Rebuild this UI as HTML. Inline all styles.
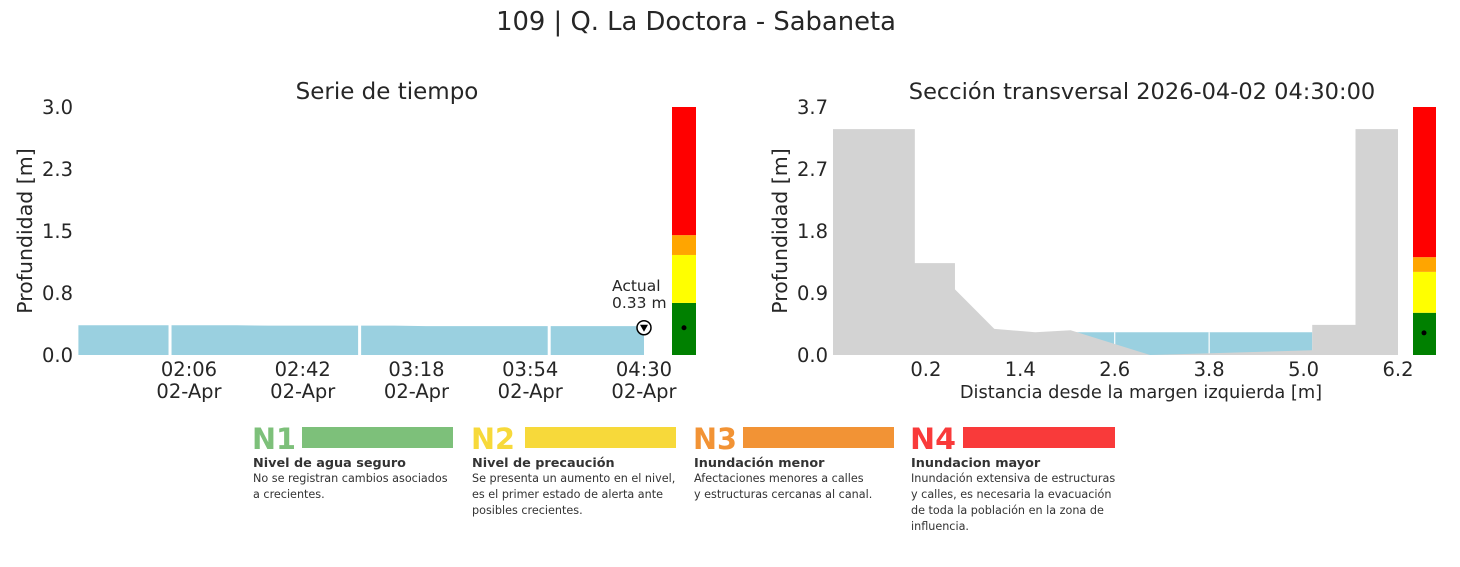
<!DOCTYPE html>
<html><head><meta charset="utf-8"><style>
body{margin:0;background:#fff;width:1460px;height:563px;overflow:hidden;font-family:"DejaVu Sans","Liberation Sans",sans-serif;}
svg text{font-family:"DejaVu Sans","Liberation Sans",sans-serif;fill:#262626}
</style></head><body>
<svg id="fig" width="1460" height="563">
<text x="696" y="30" font-size="25.8" text-anchor="middle">109 | Q. La Doctora - Sabaneta</text>
<text x="387" y="99" font-size="23" text-anchor="middle">Serie de tiempo</text>
<text x="1142" y="99" font-size="22.5" text-anchor="middle">Sección transversal 2026-04-02 04:30:00</text>
<text transform="translate(32,231) rotate(-90)" font-size="20.5" text-anchor="middle">Profundidad [m]</text>
<text transform="translate(787,231) rotate(-90)" font-size="20.5" text-anchor="middle">Profundidad [m]</text>
<text x="1141" y="398" font-size="17.8" text-anchor="middle">Distancia desde la margen izquierda [m]</text>
<g id="left"></g><g id="right"></g>
<g font-size="12">
 <text x="252" y="449" font-size="29" font-weight="bold" style="fill:#7dc07a" textLength="44" lengthAdjust="spacingAndGlyphs">N1</text>
 <rect x="302" y="427" width="151" height="21" fill="#7dc07a"/>
 <text x="253" y="467" font-size="12.8" font-weight="bold" style="fill:#333">Nivel de agua seguro</text>
 <text x="253" y="482" font-size="11.2" style="fill:#333">No se registran cambios asociados</text>
 <text x="253" y="498" font-size="11.2" style="fill:#333">a crecientes.</text>
 <text x="471" y="449" font-size="29" font-weight="bold" style="fill:#f7d93a" textLength="44" lengthAdjust="spacingAndGlyphs">N2</text>
 <rect x="525" y="427" width="151" height="21" fill="#f7d93a"/>
 <text x="472" y="467" font-size="12.8" font-weight="bold" style="fill:#333">Nivel de precaución</text>
 <text x="472" y="482" font-size="11.2" style="fill:#333">Se presenta un aumento en el nivel,</text>
 <text x="472" y="498" font-size="11.2" style="fill:#333">es el primer estado de alerta ante</text>
 <text x="472" y="514" font-size="11.2" style="fill:#333">posibles crecientes.</text>
 <text x="693" y="449" font-size="29" font-weight="bold" style="fill:#f29335" textLength="44" lengthAdjust="spacingAndGlyphs">N3</text>
 <rect x="743" y="427" width="151" height="21" fill="#f29335"/>
 <text x="694" y="467" font-size="12.8" font-weight="bold" style="fill:#333">Inundación menor</text>
 <text x="694" y="482" font-size="11.2" style="fill:#333">Afectaciones menores a calles</text>
 <text x="694" y="498" font-size="11.2" style="fill:#333">y estructuras cercanas al canal.</text>
 <text x="910" y="449" font-size="29" font-weight="bold" style="fill:#f93a3a" textLength="46" lengthAdjust="spacingAndGlyphs">N4</text>
 <rect x="963" y="427" width="152" height="21" fill="#f93a3a"/>
 <text x="911" y="467" font-size="12.8" font-weight="bold" style="fill:#333">Inundacion mayor</text>
 <text x="911" y="482" font-size="11.2" style="fill:#333">Inundación extensiva de estructuras</text>
 <text x="911" y="498" font-size="11.2" style="fill:#333">y calles, es necesaria la evacuación</text>
 <text x="911" y="514" font-size="11.2" style="fill:#333">de toda la población en la zona de</text>
 <text x="911" y="530" font-size="11.2" style="fill:#333">influencia.</text>
</g>
</svg>
<script>
// time series data (minutes since 00:00)
const tsTimes = [91,101,111,121,131,141,151,161,171,181,191,201,211,221,231,241,251,261,270];
const tsDepth = [0.36,0.36,0.36,0.36,0.36,0.36,0.355,0.355,0.355,0.355,0.355,0.35,0.35,0.35,0.35,0.35,0.35,0.35,0.35];
const tsTickMinutes = [126,162,198,234,270];
const tsTickLabels = ["02:06","02:42","03:18","03:54","04:30"];
const tsYTicks = [0,0.75,1.5,2.25,3.0];
const tsYLabels = ["0.0","0.8","1.5","2.3","3.0"];
const currentDepth = 0.33;
const levelBounds = [0,0.63,1.21,1.45,3.0];
// cross section data
const xsX = [-0.98,0.06,0.06,0.57,0.57,1.07,1.59,2.04,3.05,5.11,5.11,5.66,5.66,6.2];
const xsY = [3.37,3.37,1.37,1.37,0.98,0.39,0.34,0.37,0.0,0.07,0.45,0.45,3.37,3.37];
const xsXTicks = [0.2,1.4,2.6,3.8,5.0,6.2];
const xsYTicks = [0,0.925,1.85,2.775,3.7];
const xsYLabels = ["0.0","0.9","1.8","2.7","3.7"];
const xsLevelBounds = [0,0.63,1.24,1.46,3.7];
const levelColors = ["#008000","#ffff00","#ffa500","#ff0000"];

const NS="http://www.w3.org/2000/svg";
function mk(parent,tag,attrs){const e=document.createElementNS(NS,tag);for(const k in attrs)e.setAttribute(k,attrs[k]);parent.appendChild(e);return e;}
function txt(parent,x,y,s,size,anchor){const t=mk(parent,'text',{x:x,y:y,'font-size':size,'text-anchor':anchor});t.textContent=s;return t;}

// LEFT
const L=document.getElementById('left');
const lx=m=>78.4+(m-91)*(113.75/36);
const ly=v=>355-v*(248/3);
let d='M'+lx(tsTimes[0])+','+ly(0);
tsTimes.forEach((t,i)=>{d+=' L'+lx(t)+','+ly(tsDepth[i]);});
d+=' L'+lx(tsTimes[tsTimes.length-1])+','+ly(0)+' Z';
const area=mk(L,'path',{d:d,fill:'#9ad0e0'});


[120,180,240].forEach(m=>{const g=mk(L,'line',{x1:lx(m),x2:lx(m),y1:ly(0),y2:ly(3),stroke:'#fff','stroke-width':3});

});
tsTickMinutes.forEach((m,i)=>{const t=txt(L,lx(m),376,tsTickLabels[i],19.5,'middle');


const t2=txt(L,lx(m),398,'02-Apr',19.5,'middle');

});
tsYTicks.forEach((v,i)=>{const t=txt(L,73,ly(v)+7,tsYLabels[i],19.5,'end');

});
const mx=lx(tsTimes[tsTimes.length-1]), my=ly(currentDepth);
const mc=mk(L,'circle',{cx:mx,cy:my,r:7,fill:'#fff',stroke:'#000','stroke-width':1.5});


mk(L,'path',{d:`M${mx-4},${my-3} L${mx+4},${my-3} L${mx},${my+4} Z`,fill:'#000'});
const a1=txt(L,612,291,'Actual',15.5,'start');
const a2=txt(L,612,308,currentDepth.toFixed(2)+' m',15.5,'start');
for(let i=0;i<4;i++){const r=mk(L,'rect',{x:672,y:ly(levelBounds[i+1]),width:24,height:ly(levelBounds[i])-ly(levelBounds[i+1]),fill:levelColors[i]});

}
mk(L,'circle',{cx:684,cy:my,r:2.5,fill:'#000'});

// RIGHT
const R=document.getElementById('right');
const rx=v=>833+(v+0.98)*(565/7.18);
const ry=v=>355-v*(248/3.7);
const wl=currentDepth+0.01;
const water=mk(R,'path',{d:`M${rx(2.04)},${ry(wl)} L${rx(5.11)},${ry(wl)} L${rx(5.11)},${ry(0)} L${rx(2.04)},${ry(0)} Z`,fill:'#9ad0e0'});


[2.6,3.8].forEach(v=>{const g=mk(R,'line',{x1:rx(v),x2:rx(v),y1:ry(wl),y2:ry(0),stroke:'#fff','stroke-width':1.2});

});
let gd='M'+rx(xsX[0])+','+ry(0);
xsX.forEach((x,i)=>{gd+=' L'+rx(x)+','+ry(xsY[i]);});
gd+=' L'+rx(xsX[xsX.length-1])+','+ry(0)+' Z';
const ground=mk(R,'path',{d:gd,fill:'#d3d3d3'});


xsXTicks.forEach(v=>{const t=txt(R,rx(v),376,v.toFixed(1),19.5,'middle');

});
xsYTicks.forEach((v,i)=>{const t=txt(R,828,ry(v)+7,xsYLabels[i],19.5,'end');

});
for(let i=0;i<4;i++){const r=mk(R,'rect',{x:1413,y:ry(xsLevelBounds[i+1]),width:23,height:ry(xsLevelBounds[i])-ry(xsLevelBounds[i+1]),fill:levelColors[i]});

}
mk(R,'circle',{cx:1424,cy:ry(currentDepth),r:2.5,fill:'#000'});
</script>
</body></html>
